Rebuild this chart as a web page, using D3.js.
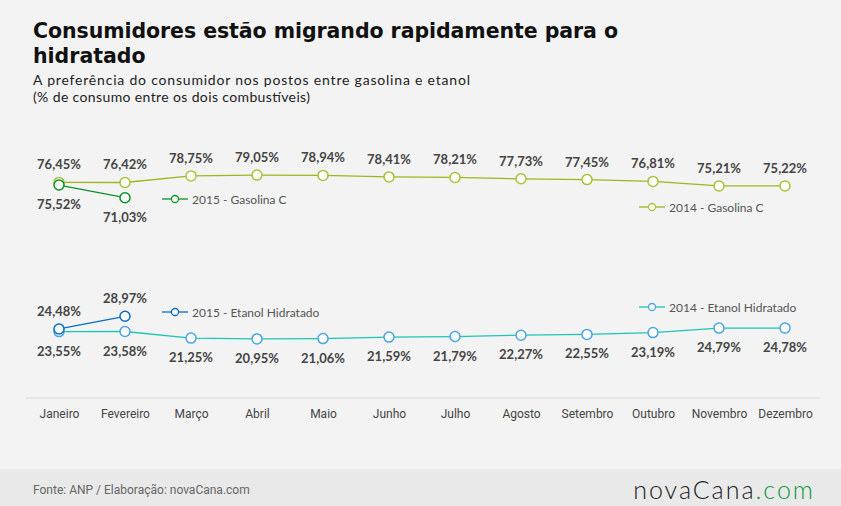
<!DOCTYPE html>
<html>
<head>
<meta charset="utf-8">
<script src="https://cdn.jsdelivr.net/npm/d3@7"></script>
<style>
  body { margin: 0; background: #f3f3f3; }
  svg { display: block; }
</style>
</head>
<body>
<svg id="chart" width="841" height="506"></svg>
<script>
var months = ["Janeiro","Fevereiro","Março","Abril","Maio","Junho","Julho","Agosto","Setembro","Outubro","Novembro","Dezembro"];
var gasolina2014 = [76.45,76.42,78.75,79.05,78.94,78.41,78.21,77.73,77.45,76.81,75.21,75.22];
var etanol2014 = [23.55,23.58,21.25,20.95,21.06,21.59,21.79,22.27,22.55,23.19,24.79,24.78];
var gasolina2015 = [75.52,71.03];
var etanol2015 = [24.48,28.97];

var series = [
  {name:"2014 - Gasolina C", values:gasolina2014, line:"#9cb61e", marker:"#a8c43a", label:-13, legend:[639,207]},
  {name:"2014 - Etanol Hidratado", values:etanol2014, line:"#1cc6b2", marker:"#4aa6e2", label:24, legend:[639,307]},
  {name:"2015 - Gasolina C", values:gasolina2015, line:"#0b922c", marker:"#0b922c", label:24, legend:[162,199]},
  {name:"2015 - Etanol Hidratado", values:etanol2015, line:"#0a6cc2", marker:"#0a6cc2", label:-13, legend:[162,312]}
];

var pt = d3.formatLocale({decimal:",", thousands:".", grouping:[3], currency:["",""]});
var fmt = function(v){ return pt.format(".2f")(v) + "%"; };

var svg = d3.select("#chart");

svg.append("rect").attr("x",0).attr("y",0).attr("width",841).attr("height",506).attr("fill","#f3f3f3");
svg.append("rect").attr("x",0).attr("y",469).attr("width",841).attr("height",37).attr("fill","#e9e9e9");

// title
svg.append("text").attr("x",33).attr("y",38)
  .style("font-family","'DejaVu Sans', sans-serif").style("font-weight","bold").style("font-size","20.5px").attr("fill","#111")
  .attr("textLength",585).attr("lengthAdjust","spacing")
  .text("Consumidores estão migrando rapidamente para o");
svg.append("text").attr("x",33).attr("y",63)
  .style("font-family","'DejaVu Sans', sans-serif").style("font-weight","bold").style("font-size","20.5px").attr("fill","#111")
  .text("hidratado");
svg.append("text").attr("x",33).attr("y",85)
  .style("font-family","Lato, sans-serif").style("font-size","14px").attr("fill","#222")
  .attr("textLength",437).attr("lengthAdjust","spacing")
  .text("A preferência do consumidor nos postos entre gasolina e etanol");
svg.append("text").attr("x",33).attr("y",102)
  .style("font-family","Lato, sans-serif").style("font-size","14px").attr("fill","#222")
  .attr("textLength",277).attr("lengthAdjust","spacing")
  .text("(% de consumo entre os dois combustíveis)");

var x = d3.scalePoint().domain(months).range([26,818]).padding(0.5);
var y = d3.scaleLinear().domain([0,100]).range([398,116]);

// axis
var xAxis = svg.append("g").attr("transform","translate(0,398)")
  .call(d3.axisBottom(x).tickSize(0).tickPadding(11));
xAxis.select(".domain").attr("stroke","#d9d9d9").attr("d","M26,0H820");
xAxis.selectAll("text").style("font-family","Roboto, sans-serif").style("font-size","12px").attr("fill","#444");

var line = d3.line().x(function(d,i){ return x(months[i]); }).y(function(d){ return y(d); });

series.forEach(function(s){
  var g = svg.append("g");
  g.append("path").datum(s.values).attr("d",line).attr("fill","none").attr("stroke",s.line).attr("stroke-width",1.3);
  g.selectAll("circle").data(s.values).enter().append("circle")
    .attr("cx",function(d,i){ return x(months[i]); })
    .attr("cy",function(d){ return y(d); })
    .attr("r",5).attr("fill","#fff").attr("stroke",s.marker).attr("stroke-width",1.5);
  g.selectAll("text").data(s.values).enter().append("text")
    .attr("x",function(d,i){ return x(months[i]); })
    .attr("y",function(d){ return y(d) + s.label; })
    .attr("text-anchor","middle")
    .style("font-family","Lato, sans-serif").style("font-weight","bold").style("font-size","13px").attr("fill","#444")
    .text(fmt);
  // legend
  var lg = svg.append("g").attr("transform","translate(" + s.legend[0] + "," + s.legend[1] + ")");
  lg.append("line").attr("x1",0).attr("x2",26).attr("y1",0).attr("y2",0).attr("stroke",s.line).attr("stroke-width",1.3);
  lg.append("circle").attr("cx",13).attr("cy",0).attr("r",3.5).attr("fill","#fff").attr("stroke",s.marker).attr("stroke-width",1.3);
  lg.append("text").attr("x",30).attr("y",4.5)
    .style("font-family","Lato, sans-serif").style("font-size","12px").attr("fill","#555")
    .text(s.name);
});

// footer
svg.append("text").attr("x",33).attr("y",494)
  .style("font-family","Roboto, sans-serif").style("font-size","12px").attr("fill","#666")
  .text("Fonte: ANP / Elaboração: novaCana.com");
var logo = svg.append("text").attr("x",815).attr("y",499).attr("text-anchor","end")
  .style("font-family","Lato, sans-serif").style("font-weight","300").style("font-size","25px").style("letter-spacing","2px");
logo.append("tspan").attr("fill","#222").text("novaCana");
logo.append("tspan").attr("fill","#0a9a40").text(".com");
</script>
</body>
</html>
